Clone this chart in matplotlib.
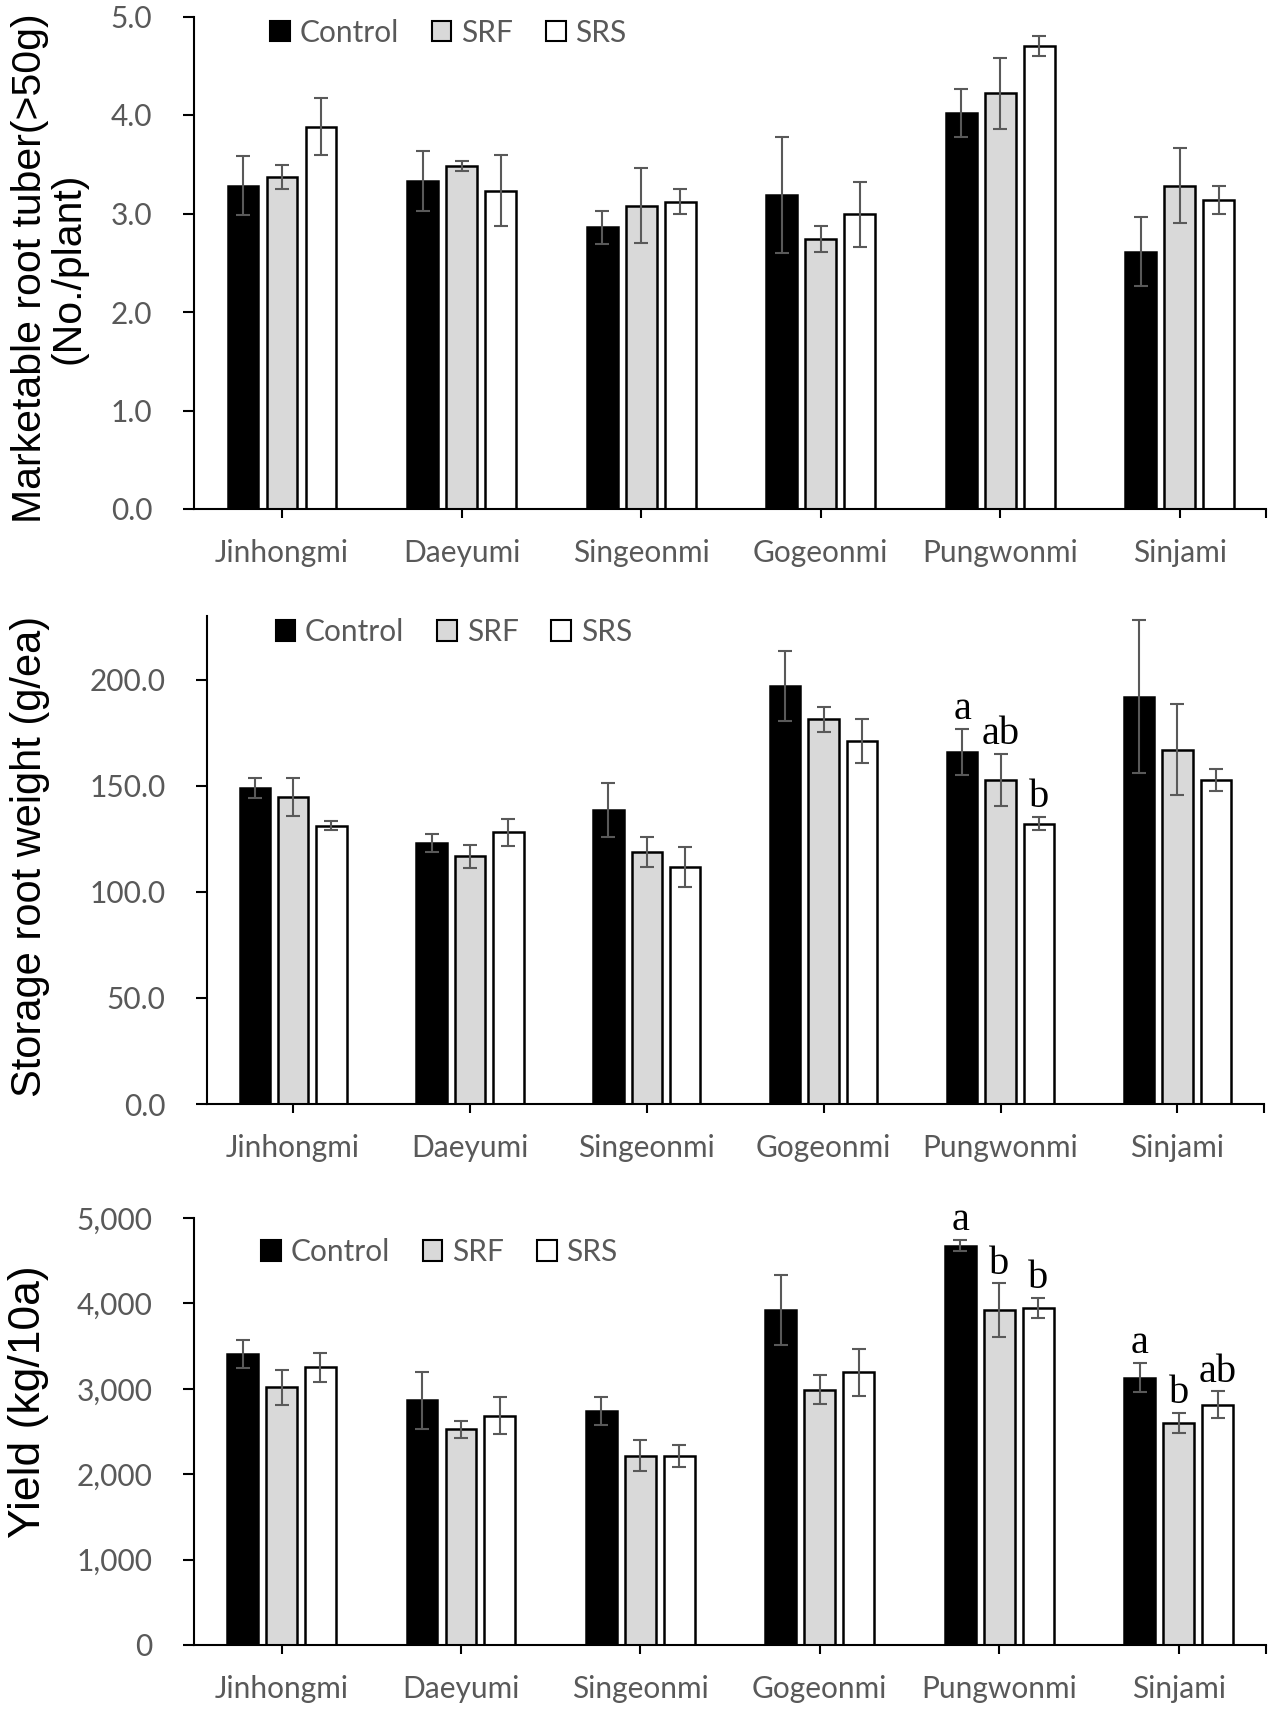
import matplotlib
matplotlib.use('Agg')
import matplotlib.pyplot as plt
import numpy as np
from matplotlib.patches import Patch
from matplotlib.ticker import FuncFormatter, FixedLocator

cultivars = ['Jinhongmi', 'Daeyumi', 'Singeonmi', 'Gogeonmi', 'Pungwonmi', 'Sinjami']
treatments = ['Control', 'SRF', 'SRS']

tuber_control = [3.28, 3.33, 2.86, 3.19, 4.02, 2.61]
tuber_control_err = [0.30, 0.30, 0.17, 0.59, 0.24, 0.35]
tuber_srf = [3.37, 3.48, 3.08, 2.74, 4.22, 3.28]
tuber_srf_err = [0.12, 0.05, 0.38, 0.13, 0.36, 0.38]
tuber_srs = [3.88, 3.23, 3.12, 2.99, 4.70, 3.14]
tuber_srs_err = [0.29, 0.36, 0.13, 0.33, 0.10, 0.14]

weight_control = [148.9, 123.1, 138.6, 197.0, 166.0, 191.9]
weight_control_err = [4.6, 4.1, 12.8, 16.4, 10.8, 36.0]
weight_srf = [144.7, 116.7, 118.8, 181.3, 152.6, 167.0]
weight_srf_err = [8.8, 5.5, 7.2, 6.0, 12.3, 21.4]
weight_srs = [131.2, 128.0, 111.7, 171.2, 132.2, 152.6]
weight_srs_err = [2.0, 6.2, 9.3, 10.3, 3.0, 5.3]

yield_control = [3409, 2867, 2739, 3927, 4677, 3130]
yield_control_err = [165, 333, 165, 410, 66, 170]
yield_srf = [3018, 2528, 2217, 2990, 3923, 2604]
yield_srf_err = [205, 100, 180, 167, 313, 118]
yield_srs = [3254, 2687, 2217, 3194, 3947, 2811]
yield_srs_err = [170, 220, 130, 273, 118, 158]

weight_letters = {4: ['a', 'ab', 'b']}
yield_letters = {4: ['a', 'b', 'b'], 5: ['a', 'b', 'ab']}

W, H = 1272, 1714
fig = plt.figure(figsize=(W / 100, H / 100), dpi=100)

TICK_FONT = 'Lato'
TICK_SIZE = 21.5
LABEL_FONT = 'Liberation Sans'
GRAY = '#595959'
face_colors = ['black', '#d9d9d9', 'white']
offsets = [-0.217, 0.0, 0.217]
bar_w = 0.172


def px_axes(left, top, right, bottom):
    return fig.add_axes([left / W, 1 - bottom / H, (right - left) / W, (bottom - top) / H])


def draw_panel(ax, series, errs, ylim, yticks, fmt, xlim, letters=None):
    x = np.arange(len(cultivars))
    for i, (vals, err) in enumerate(zip(series, errs)):
        ax.bar(x + offsets[i], vals, width=bar_w, color=face_colors[i],
               edgecolor='black', linewidth=1.8, zorder=2)
        ax.errorbar(x + offsets[i], vals, yerr=err, fmt='none', ecolor=GRAY,
                    elinewidth=1.5, capsize=4.7, capthick=1.5, zorder=3)
    if letters:
        for gi, labs in letters.items():
            for i, lab in enumerate(labs):
                top = series[i][gi] + errs[i][gi]
                ax.annotate(lab, xy=(gi + offsets[i], top), xytext=(0, 7),
                            textcoords='offset points', ha='center', va='baseline',
                            fontsize=29, family='Liberation Serif', color='black',
                            zorder=4)
    ax.set_xlim(*xlim)
    ax.set_ylim(*ylim)
    ax.set_yticks(yticks)
    ax.yaxis.set_major_formatter(FuncFormatter(fmt))
    ax.set_xticks(x)
    ax.set_xticklabels(cultivars)
    ax.xaxis.set_minor_locator(FixedLocator([xlim[1]]))
    for s in ['top', 'right']:
        ax.spines[s].set_visible(False)
    for s in ['left', 'bottom']:
        ax.spines[s].set_linewidth(1.5)
        ax.spines[s].set_color('black')
    ax.tick_params(axis='y', direction='out', length=8, width=1.5, pad=22,
                   labelsize=TICK_SIZE, labelcolor=GRAY, color='black')
    ax.tick_params(axis='x', which='both', direction='out', length=6.5, width=1.5,
                   pad=15, labelsize=TICK_SIZE, labelcolor=GRAY, color='black')
    for lab in ax.get_xticklabels() + ax.get_yticklabels():
        lab.set_family(TICK_FONT)


def add_legend(ax, left_px, cy_px):
    handles = [Patch(facecolor=c, edgecolor='black', linewidth=1.5) for c in face_colors]
    leg = ax.legend(handles, treatments, loc='center left',
                    bbox_to_anchor=(left_px / W, 1 - cy_px / H),
                    bbox_transform=fig.transFigure, ncol=3, frameon=False,
                    borderpad=0, borderaxespad=0, handlelength=0.66, handleheight=0.66,
                    handletextpad=0.33, columnspacing=1.1,
                    prop={'family': TICK_FONT, 'size': TICK_SIZE})
    for t in leg.get_texts():
        t.set_color(GRAY)


ax1 = px_axes(194, 16.5, 1266, 509)
draw_panel(ax1, [tuber_control, tuber_srf, tuber_srs],
           [tuber_control_err, tuber_srf_err, tuber_srs_err],
           (0, 5), np.arange(0, 5.01, 1.0), lambda v, p: f'{v:.1f}', (-0.49, 5.48))
add_legend(ax1, 270, 32.5)

ax2 = px_axes(207, 616, 1264, 1104)
draw_panel(ax2, [weight_control, weight_srf, weight_srs],
           [weight_control_err, weight_srf_err, weight_srs_err],
           (0, 230), np.arange(0, 201, 50), lambda v, p: f'{v:.1f}', (-0.487, 5.49),
           letters=weight_letters)
add_legend(ax2, 275.5, 632)

ax3 = px_axes(194, 1218, 1266, 1645)
draw_panel(ax3, [yield_control, yield_srf, yield_srs],
           [yield_control_err, yield_srf_err, yield_srs_err],
           (0, 5000), np.arange(0, 5001, 1000), lambda v, p: f'{v:,.0f}', (-0.488, 5.487),
           letters=yield_letters)
add_legend(ax3, 261, 1252)

fig.text(49 / W, 1 - 268 / H, 'Marketable root tuber(>50g)\n(No./plant)', rotation=90,
         ha='center', va='center', multialignment='center', fontsize=29.5,
         family=LABEL_FONT, linespacing=1.0)
fig.text(30 / W, 1 - 856 / H, 'Storage root weight (g/ea)', rotation=90,
         ha='center', va='center', fontsize=30, family=LABEL_FONT)
fig.text(29 / W, 1 - 1402 / H, 'Yield (kg/10a)', rotation=90,
         ha='center', va='center', fontsize=32, family=LABEL_FONT)

fig.savefig('out.png', dpi=100)
